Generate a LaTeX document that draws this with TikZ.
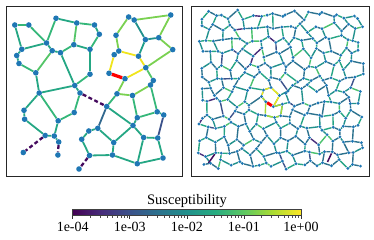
\documentclass[tikz,border=0pt]{standalone}
\usepackage{fontspec}
\setmainfont{Liberation Serif}
\usetikzlibrary{backgrounds}
\definecolor{mplblue}{HTML}{1F77B4}
\definecolor{vP}{HTML}{440A5E}
\definecolor{vBl}{HTML}{3B528B}
\definecolor{vBt}{HTML}{31688E}
\definecolor{vA}{HTML}{21918C}
\definecolor{vA2}{HTML}{1F9E89}
\definecolor{vB}{HTML}{25A784}
\definecolor{vC}{HTML}{35B779}
\definecolor{vD}{HTML}{54C568}
\definecolor{vE}{HTML}{7AD151}
\definecolor{vF}{HTML}{A5DB36}
\definecolor{vY}{HTML}{F0E51C}
\definecolor{rt1}{HTML}{2C728E}
\definecolor{rt2}{HTML}{21918C}
\definecolor{rt3}{HTML}{25A584}
\definecolor{rt4}{HTML}{4AC16D}
\definecolor{rt5}{HTML}{3B528B}
\definecolor{rt6}{HTML}{472D7B}
\definecolor{v00}{HTML}{440154}
\definecolor{v01}{HTML}{472D7B}
\definecolor{v02}{HTML}{3B528B}
\definecolor{v03}{HTML}{2C728E}
\definecolor{v04}{HTML}{21918C}
\definecolor{v05}{HTML}{27AD81}
\definecolor{v06}{HTML}{5EC962}
\definecolor{v07}{HTML}{AADC32}
\definecolor{v08}{HTML}{FDE725}
\pgfdeclarehorizontalshading{viridis}{100bp}{color(0bp)=(v00); color(25bp)=(v00); color(31.25bp)=(v01); color(37.5bp)=(v02); color(43.75bp)=(v03); color(50bp)=(v04); color(56.25bp)=(v05); color(62.5bp)=(v06); color(68.75bp)=(v07); color(75bp)=(v08); color(100bp)=(v08)}
\newcommand\mypickcol{%
  \pgfmathrandominteger{\myci}{1}{100}%
  \ifnum\myci<34 \def\myecol{rt1}\else
  \ifnum\myci<64 \def\myecol{rt2}\else
  \ifnum\myci<83 \def\myecol{rt3}\else
  \ifnum\myci<94 \def\myecol{rt4}\else
  \ifnum\myci<98 \def\myecol{rt5}\else
  \def\myecol{rt6}\fi\fi\fi\fi\fi}
\newcommand\mysetov[4]{\expandafter\def\csname myovx#1-#2\endcsname{#3}\expandafter\def\csname myovy#1-#2\endcsname{#4}}
\mysetov{8}{6}{263.5}{90}
\mysetov{9}{6}{271}{87.5}
\mysetov{10}{6}{279.5}{95.5}
\mysetov{11}{6}{288}{91}
\mysetov{8}{7}{261.5}{96.5}
\mysetov{9}{7}{265.7}{101.7}
\mysetov{10}{7}{273.3}{106.7}
\tikzset{
  lnode/.style={circle,fill=mplblue,inner sep=0pt,minimum size=5.6pt,draw=none},
  rnode/.style={circle,fill=mplblue,inner sep=0pt,minimum size=3.2pt,draw=none},
  ledge/.style={line width=1.8pt},
  redge/.style={line width=1.4pt},
  dashp/.style={line width=2.3pt,color=vP,dash pattern=on 4pt off 2.5pt},
  redline/.style={line width=3.3pt,color=red},
  frame/.style={line width=0.8pt,draw=black!85},
  ticklab/.style={font=\fontsize{14}{16}\selectfont,anchor=base,inner sep=0pt},
  tickmark/.style={line width=0.6pt,draw=black!80},
}
\begin{document}
\begin{tikzpicture}[x=1pt,y=-1pt]
\useasboundingbox (0,0) rectangle (374,240);
% frames
\draw[frame] (6,6) rectangle (182.7,176.7);
\draw[frame] (191.3,6) rectangle (369,176.7);
% ---------- left panel nodes
\node[lnode] (a1) at (14.8,25) {};
\node[lnode] (a2) at (28.8,25) {};
\node[lnode] (a3) at (56,18.3) {};
\node[lnode] (a4) at (76.7,23) {};
\node[lnode] (a5) at (94.5,25) {};
\node[lnode] (a6) at (99.3,34.3) {};
\node[lnode] (a7) at (46.5,43) {};
\node[lnode] (a8) at (52.2,50.7) {};
\node[lnode] (a9) at (60.5,52.7) {};
\node[lnode] (a10) at (73.8,44.7) {};
\node[lnode] (a11) at (90,49.3) {};
\node[lnode] (a12) at (21.8,49.3) {};
\node[lnode] (a13) at (16.7,55.5) {};
\node[lnode] (a14) at (19,63.5) {};
\node[lnode] (a15) at (35.8,72.8) {};
\node[lnode] (a16) at (90,74.2) {};
\node[lnode] (a17) at (74.7,85.5) {};
\node[lnode] (a18) at (80,93) {};
\node[lnode] (a19) at (39.2,93) {};
\node[lnode] (a20) at (24,110.3) {};
\node[lnode] (a21) at (24.6,119.2) {};
\node[lnode] (a22) at (74.2,112.5) {};
\node[lnode] (a23) at (58.2,120.8) {};
\node[lnode] (a24) at (45.2,135.5) {};
\node[lnode] (a25) at (54.3,136) {};
\node[lnode] (a26) at (58.7,142) {};
\node[lnode] (a27) at (23.3,152.5) {};
\node[lnode] (a28) at (57.9,155) {};
\node[lnode] (b29) at (128.6,17) {};
\node[lnode] (b30) at (134.2,20) {};
\node[lnode] (b31) at (170.7,15) {};
\node[lnode] (b32) at (116,35.3) {};
\node[lnode] (b33) at (145.4,39.6) {};
\node[lnode] (b34) at (158.7,37.7) {};
\node[lnode] (b35) at (172.7,49.6) {};
\node[lnode] (b36) at (118.8,51) {};
\node[lnode] (b37) at (114.2,54.7) {};
\node[lnode] (b38) at (138.5,56.2) {};
\node[lnode] (b39) at (145.8,67.7) {};
\node[lnode] (b40) at (109,73.3) {};
\node[lnode] (b41) at (125,78.7) {};
\node[lnode] (b42) at (153.3,80.5) {};
\node[lnode] (b43) at (150.5,85) {};
\node[lnode] (b44) at (117,93.8) {};
\node[lnode] (b45) at (132.5,95.5) {};
\node[lnode] (b46) at (106.7,106.5) {};
\node[lnode] (b47) at (157.2,111.8) {};
\node[lnode] (b48) at (163.7,115) {};
\node[lnode] (b49) at (137.3,117.7) {};
\node[lnode] (b50) at (97.8,128.3) {};
\node[lnode] (b51) at (133,125.5) {};
\node[lnode] (b52) at (88.8,131) {};
\node[lnode] (b53) at (81.7,139.3) {};
\node[lnode] (b54) at (113.7,142.5) {};
\node[lnode] (b55) at (143.6,137.5) {};
\node[lnode] (b56) at (157.7,138) {};
\node[lnode] (b57) at (89.5,155.5) {};
\node[lnode] (b58) at (112.5,155) {};
\node[lnode] (b59) at (137.3,163.7) {};
\node[lnode] (b60) at (163,158) {};
\node[lnode] (b61) at (79,169) {};
% ---------- right panel lattice nodes
\pgfmathsetseed{4242}
\foreach \i in {0,...,22}{
  \foreach \j in {0,...,12}{
    \pgfmathsetmacro\mypx{201+7.25*\i+3.0*rand}
    \pgfmathsetmacro\mypy{15+12.5*\j+3.5*rand+2.0*(1-2*mod(\i+\j,2))}
    \ifcsname myovx\i-\j\endcsname
      \edef\mypx{\csname myovx\i-\j\endcsname}%
      \edef\mypy{\csname myovy\i-\j\endcsname}%
    \fi
    \node[rnode] (r-\i-\j) at (\mypx,\mypy) {};
  }
}
\coordinate (rp1) at (208.5,163);
\coordinate (rp2) at (327.5,162);
% ---------- edges
\begin{pgfonlayer}{background}
% left cluster
\draw[ledge,vC] (a1) -- (a2);
\draw[ledge,vB] (a1) -- (a12);
\draw[ledge,vC] (a2) -- (a7);
\draw[ledge,vC] (a3) -- (a7);
\draw[ledge,vB] (a3) -- (a4);
\draw[ledge,vC] (a4) -- (a5);
\draw[ledge,vD] (a4) -- (a10);
\draw[ledge,vB] (a5) -- (a6);
\draw[ledge,vC] (a6) -- (a11);
\draw[ledge,vB] (a7) -- (a8);
\draw[ledge,vB] (a12) -- (a7);
\draw[ledge,vB] (a8) -- (a9);
\draw[ledge,vC] (a9) -- (a10);
\draw[ledge,vB] (a10) -- (a11);
\draw[ledge,vB] (a12) -- (a13);
\draw[ledge,vB] (a13) -- (a14);
\draw[ledge,vC] (a14) -- (a15);
\draw[ledge,vD] (a8) -- (a15);
\draw[ledge,vB] (a9) -- (a17);
\draw[ledge,vB] (a11) -- (a16);
\draw[ledge,vC] (a16) -- (a17);
\draw[ledge,vB] (a15) -- (a19);
\draw[ledge,vB] (a17) -- (a19);
\draw[ledge,vB] (a17) -- (a18);
\draw[ledge,vB] (a19) -- (a20);
\draw[ledge,vC] (a19) -- (a23);
\draw[ledge,vB] (a20) -- (a21);
\draw[ledge,vB] (a21) -- (a24);
\draw[ledge,vC] (a22) -- (a23);
\draw[ledge,vC] (a22) -- (a18);
\draw[ledge,vB] (a23) -- (a25);
\draw[ledge,vB] (a24) -- (a25);
\draw[ledge,vB] (a25) -- (a26);
% right cluster
\draw[ledge,vC] (b29) -- (b30);
\draw[ledge,vE] (b30) -- (b31);
\draw[ledge,vE] (b29) -- (b32);
\draw[ledge,vA] (b30) -- (b33);
\draw[ledge,vE] (b31) -- (b34);
\draw[ledge,vA] (b33) -- (b34);
\draw[ledge,vE] (b34) -- (b35);
\draw[ledge,vA2] (b33) -- (b38);
\draw[ledge,vE] (b32) -- (b36);
\draw[ledge,vE] (b36) -- (b37);
\draw[ledge,vY] (b36) -- (b38);
\draw[ledge,vY] (b37) -- (b40);
\draw[ledge,vY] (b38) -- (b39);
\draw[ledge,vE] (b35) -- (b39);
\draw[ledge,vY] (b41) -- (b39);
\draw[ledge,vE] (b41) -- (b44);
\draw[ledge,vD] (b39) -- (b42);
\draw[ledge,vD] (b42) -- (b43);
\draw[ledge,vE] (b43) -- (b45);
\draw[ledge,vE] (b44) -- (b45);
\draw[ledge,vC] (b44) -- (b46);
\draw[ledge,vC] (b43) -- (b47);
\draw[ledge,vC] (b45) -- (b49);
\draw[ledge,vBt] (b46) -- (b50);
\draw[ledge,vB] (b46) -- (b51);
\draw[ledge,vB] (b47) -- (b48);
\draw[ledge,vC] (b47) -- (b49);
\draw[ledge,vB] (b49) -- (b51);
\draw[ledge,vBl] (b48) -- (b56);
\draw[ledge,vB] (b50) -- (b52);
\draw[ledge,vB] (b52) -- (b53);
\draw[ledge,vB] (b50) -- (b54);
\draw[ledge,vB] (b51) -- (b54);
\draw[ledge,vB] (b51) -- (b55);
\draw[ledge,vB] (b55) -- (b56);
\draw[ledge,vB] (b53) -- (b57);
\draw[ledge,vB] (b54) -- (b58);
\draw[ledge,vB] (b55) -- (b59);
\draw[ledge,vB] (b56) -- (b60);
\draw[ledge,vB] (b57) -- (b58);
\draw[ledge,vB] (b58) -- (b59);
\draw[ledge,vB] (b59) -- (b60);
\draw[redline] (b40) -- (b41);
\draw[dashp] (a18) -- (b46);
\draw[dashp] (a24) -- (a27);
\draw[dashp] (a26) -- (a28);
\draw[dashp] (b57) -- (b61);
% right lattice
\foreach \i in {0,...,21}{
  \pgfmathtruncatemacro\mynexti{\i+1}
  \foreach \j in {0,...,12}{
    \mypickcol
    \draw[redge,color=\myecol] (r-\i-\j) -- (r-\mynexti-\j);
  }
}
\foreach \i in {0,...,22}{
  \foreach \j in {0,...,11}{
    \pgfmathtruncatemacro\mynextj{\j+1}
    \pgfmathtruncatemacro\myparity{mod(\i+\j,2)}
    \pgfmathrandominteger{\myskip}{1}{100}
    \ifnum\myparity=0
      \ifnum\myskip>6
        \mypickcol
        \draw[redge,color=\myecol] (r-\i-\j) -- (r-\i-\mynextj);
      \fi
    \fi
  }
}
\draw[redge,vY] (r-8-7) -- (r-8-6) -- (r-9-6) -- (r-10-6) -- (r-10-7);
\draw[redge,vF] (r-8-7) -- (r-9-7);
\draw[redge,vF] (r-9-7) -- (r-9-8) -- (r-10-8) -- (r-11-8) -- (r-11-7) -- (r-10-7);
\draw[line width=3pt,red] (r-9-7) -- (r-10-7);
\draw[line width=1.5pt,vP] (r-2-11) -- (rp1);
\draw[line width=1.5pt,vP] (r-18-11) -- (rp2);
\end{pgfonlayer}
% ---------- colorbar
\node[font=\fontsize{14.5}{16}\selectfont,anchor=base,inner sep=0pt] (cbtitle) at (187,204.5) {Susceptibility};
\shade[shading=viridis] (72.7,209.3) rectangle (301,215.7);
\draw[line width=0.6pt,draw=black!75] (72.7,209.3) rectangle (301,215.7);
\foreach \k in {0,...,4}{
  \pgfmathsetmacro\mytx{72.7+57.075*\k}
  \draw[tickmark] (\mytx,215.7) -- (\mytx,219);
}
\foreach \k in {0,...,3}{
  \foreach \m in {2,...,9}{
    \pgfmathsetmacro\mytx{72.7+57.075*(\k+log10(\m))}
    \draw[line width=0.4pt,draw=black!70] (\mytx,215.7) -- (\mytx,217.6);
  }
}
\node[ticklab] (t0) at (72.7,231.5) {1e-04};
\node[ticklab] (t1) at (129.8,231.5) {1e-03};
\node[ticklab] (t2) at (186.9,231.5) {1e-02};
\node[ticklab] (t3) at (243.9,231.5) {1e-01};
\node[ticklab] (t4) at (301,231.5) {1e+00};
\end{tikzpicture}
\end{document}
